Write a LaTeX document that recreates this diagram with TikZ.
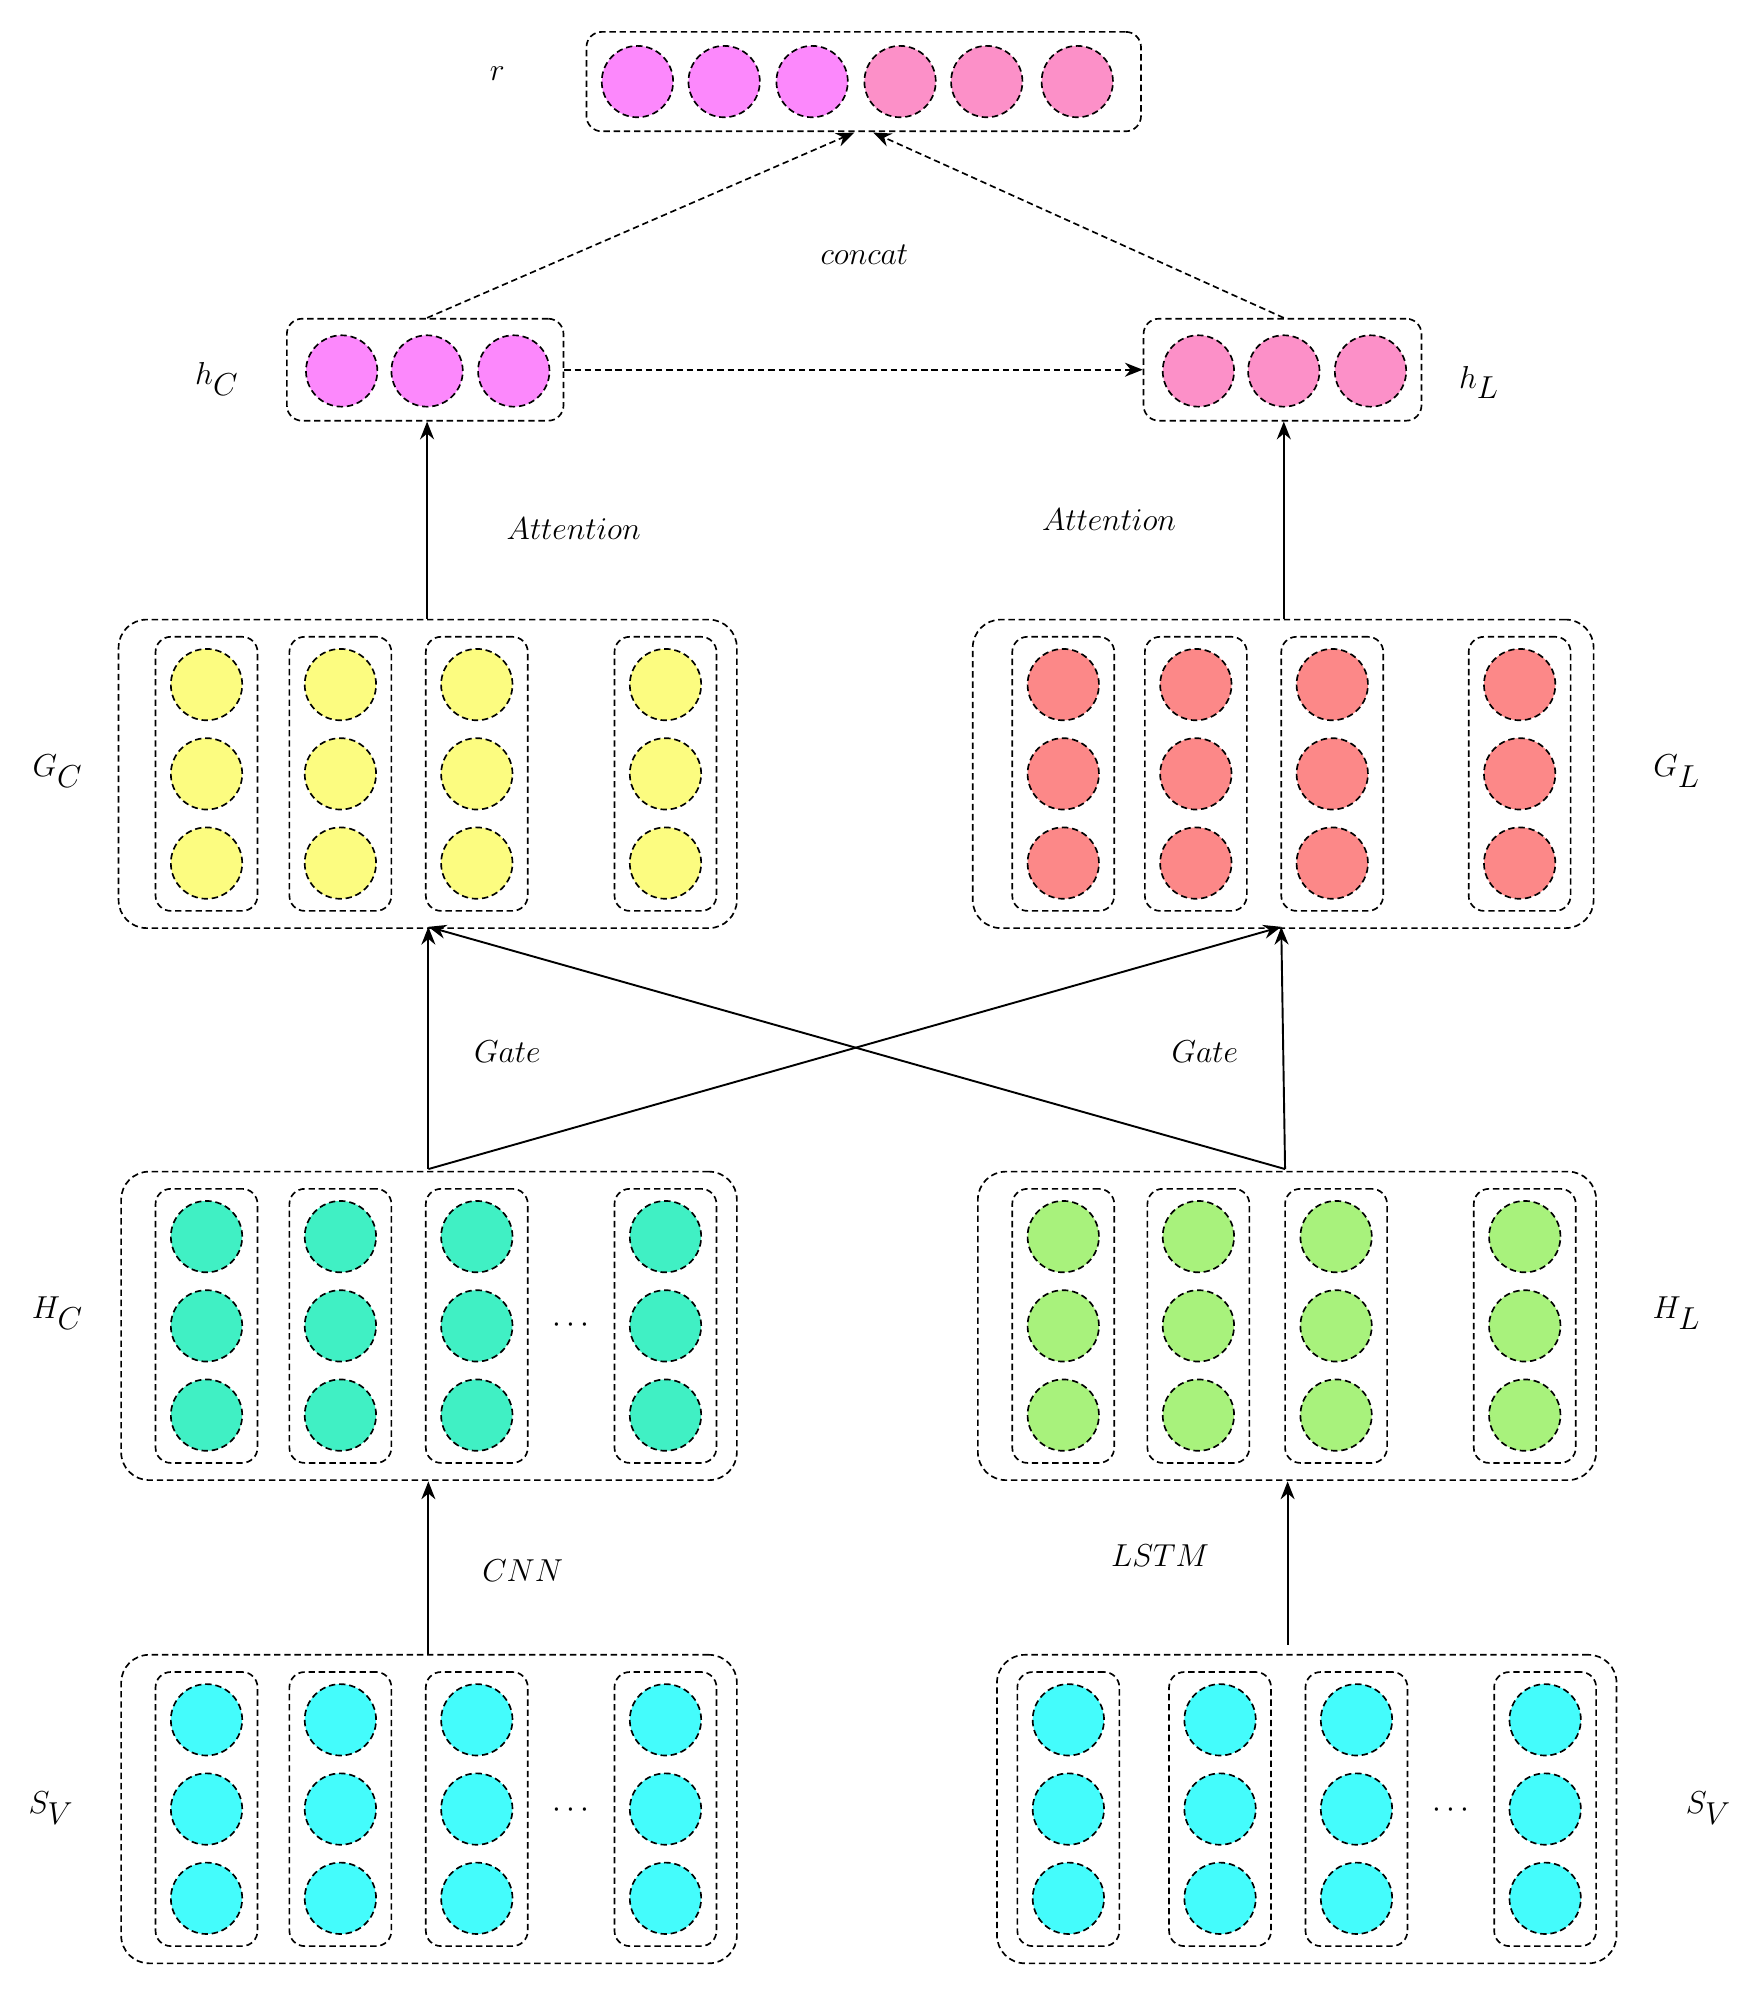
\documentclass[tikz,border=0pt]{standalone}
\usetikzlibrary{arrows.meta}
\begin{document}
\begin{tikzpicture}[x=1pt,y=-1pt,
  dsh/.style={dashed,line width=1.3pt,dash pattern=on 5pt off 3pt},
  outer/.style={draw,dsh,rounded corners=22pt,minimum width=#1,minimum height=242pt,inner sep=0pt},
  col/.style={draw,dsh,rounded corners=12pt,minimum width=80pt,minimum height=215pt,inner sep=0pt},
  dot/.style={circle,draw,dsh,fill=#1,minimum size=56pt,inner sep=0pt},
  lab/.style={font=\fontsize{40}{48}\selectfont},
  arr/.style={line width=1.5pt,-{Stealth[length=14pt,width=11pt]}},
  darr/.style={dsh,-{Stealth[length=14pt,width=11pt]}}]
\useasboundingbox (0,0) rectangle (1380,1568);
\definecolor{cyanc}{HTML}{44FCFC}
\definecolor{tealc}{HTML}{40F0C4}
\definecolor{greenc}{HTML}{A8F27C}
\definecolor{yelc}{HTML}{FCFC80}
\definecolor{redc}{HTML}{FC8888}
\definecolor{vio}{HTML}{FC88FC}
\definecolor{pinkc}{HTML}{FC90C8}
% grid macro: name, outer cx, outer w, cy, color, col x list
\newcommand\mygrid[6]{%
  \node[outer=#3] (#1) at (#2,#4) {};
  \foreach \cx [count=\i] in {#6} {
    \node[col] (#1c\i) at (\cx,#4) {};
    \foreach \dy [count=\j] in {-70,0,70}
      \node[dot=#5] (#1d\i\j) at (\cx,#4+\dy) {};
  }}
\mygrid{svl}{336.5}{483}{1419}{cyanc}{162,267,374,522}
\mygrid{svr}{1025}{486}{1419}{cyanc}{838,957,1064,1212}
\mygrid{hc}{336.5}{483}{1040}{tealc}{162,267,374,522}
\mygrid{hl}{1009.5}{485}{1040}{greenc}{834,940,1048,1196}
\mygrid{gc}{335.5}{485}{607}{yelc}{162,267,374,522}
\mygrid{gl}{1006.5}{487}{607}{redc}{834,938,1045,1192}
\node[font=\fontsize{30}{30}\selectfont] (dd1) at (448,1420) {$\cdots$};
\node[font=\fontsize{30}{30}\selectfont] (dd2) at (448,1040) {$\cdots$};
\node[font=\fontsize{30}{30}\selectfont] (dd3) at (1138,1420) {$\cdots$};
% h boxes
\node[draw,dsh,rounded corners=12pt,minimum width=217pt,minimum height=80pt] (hC) at (333.5,290) {};
\foreach \x [count=\i] in {268,335,403} \node[dot=vio] (hCd\i) at (\x,291) {};
\node[draw,dsh,rounded corners=12pt,minimum width=218pt,minimum height=80pt] (hL) at (1006,290) {};
\foreach \x [count=\i] in {940,1007,1075} \node[dot=pinkc] (hLd\i) at (\x,291) {};
\node[draw,dsh,rounded corners=12pt,minimum width=435pt,minimum height=78pt] (r) at (677.5,64) {};
\foreach \x [count=\i] in {500,568,637} \node[dot=vio] (ra\i) at (\x,64) {};
\foreach \x [count=\i] in {706,774,845} \node[dot=pinkc] (rb\i) at (\x,64) {};
% labels
\node[lab] (lr) at (390,58) {$r$};
\node[lab] (lhc) at (170,297) {$h_C$};
\node[lab] (lhl) at (1160,300) {$h_L$};
\node[lab] (lgc) at (45,605) {$G_C$};
\node[lab] (lgl) at (1315,605) {$G_L$};
\node[lab] (lhC) at (45,1030) {$H_C$};
\node[lab] (lhL) at (1315,1030) {$H_L$};
\node[lab] (ls1) at (40,1418) {$S_V$};
\node[lab] (ls2) at (1340,1418) {$S_V$};
\node[lab] (cnn) at (410,1232) {$CNN$};
\node[lab] (lstm) at (910,1220) {$LSTM$};
\node[lab] (g1) at (398,825) {$Gate$};
\node[lab] (g2) at (945,825) {$Gate$};
\node[lab] (a1) at (450,415) {$Attention$};
\node[lab] (a2) at (870,408) {$Attention$};
\node[lab] (cc) at (678,200) {$concat$};
% connectors
\coordinate (svlt) at (336,1298); \coordinate (hcb) at (336,1162);
\coordinate (svrt) at (1010,1290); \coordinate (hlb) at (1010,1162);
\draw[arr] (svlt) -- (hcb);
\draw[arr] (svrt) -- (hlb);
\coordinate (hct) at (336,917); \coordinate (hlt) at (1008,917);
\coordinate (gcb) at (336,727); \coordinate (glb) at (1005,727);
\draw[arr] (hct) -- (gcb);
\draw[arr] (hct) -- (glb);
\draw[arr] (hlt) -- (glb);
\draw[arr] (hlt) -- (gcb);
\draw[arr] (gc.north -| hCd2) -- (hC.south -| hCd2);
\draw[arr] (gl.north -| hLd2) -- (hL.south -| hLd2);
\draw[darr] (hC.east) -- (hL.west);
\coordinate (rt1) at (670,104); \coordinate (rt2) at (685,104);
\draw[darr] (hC.north -| hCd2) -- (rt1);
\draw[darr] (hL.north -| hLd2) -- (rt2);
\end{tikzpicture}
\end{document}
